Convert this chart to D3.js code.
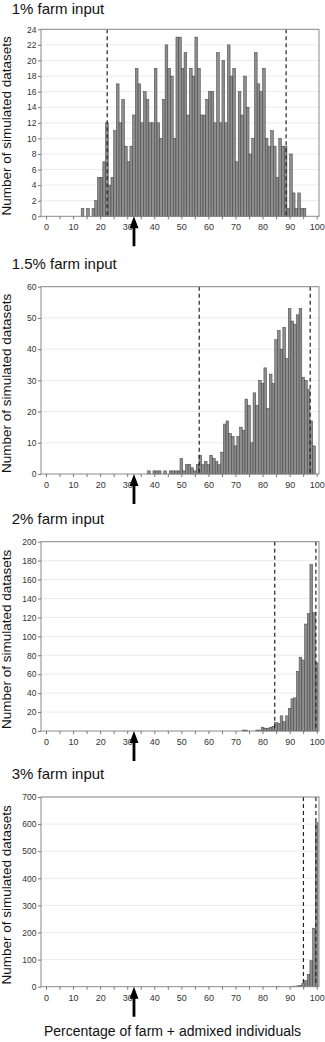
<!DOCTYPE html>
<html>
<head>
<meta charset="utf-8">
<script src="https://cdn.jsdelivr.net/npm/d3@7"></script>
<style>
  body { margin: 0; background: #fff; }
  svg { display: block; font-family: "Liberation Sans", Arial, sans-serif; }
</style>
</head>
<body>
<div id="chart"></div>
<script>
// panel titles
const titles = ["1% farm input", "1.5% farm input", "2% farm input", "3% farm input"];

// histogram counts, one bin per percent; firstBin is the centre of the first bin
const firstBin = [13.5, 38, 73, 86];
const counts1 = [1, 0, 1, 0, 1, 2, 5, 5, 7, 12,
  4, 5, 11, 17, 12, 15, 9, 7, 9, 13,
  19, 17, 12, 16, 15, 12, 12, 19, 12, 10,
  15, 22, 19, 18, 10, 23, 23, 19, 21, 13,
  19, 18, 23, 19, 13, 13, 15, 16, 16, 12,
  21, 12, 20, 12, 22, 18, 19, 7, 16, 13,
  18, 14, 8, 10, 21, 17, 16, 19, 10, 9,
  11, 9, 5, 10, 9, 9, 1, 8, 3, 1,
  3, 1, 1];
const counts2 = [1, 0, 1, 1, 1, 0, 1, 0, 1, 1, 1, 1,
  5, 1, 3, 3, 2, 1, 3, 6, 3, 4, 3, 6, 5, 4, 3, 7,
  16, 17, 13, 12, 9, 12, 15, 14, 24, 22, 10, 26, 22, 30, 29, 34, 21, 32, 29,
  43, 46, 40, 47, 37, 53, 49, 48, 51, 53, 31, 30, 27, 17, 9];
const counts3 = [1, 1, 0, 0, 0, 1, 1, 4, 3, 3, 4, 5,
  9, 8, 16, 10, 16, 24, 34, 35, 63, 78, 75, 113, 124, 176, 125, 72];
const counts4 = [1, 0, 0, 0, 0, 2, 2, 3, 4, 12, 22, 45, 96, 216, 605];

// y axes
const yTicks1 = [0, 2, 4, 6, 8, 10, 12, 14, 16, 18, 20, 22, 24];
const yTicks2 = [0, 10, 20, 30, 40, 50, 60];
const yTicks3 = [0, 20, 40, 60, 80, 100, 120, 140, 160, 180, 200];
const yTicks4 = [0, 100, 200, 300, 400, 500, 600, 700];

// x axis
const xTicks = [0, 5, 10, 15, 20, 25, 30, 35, 40, 45, 50, 55, 60, 65, 70, 75, 80, 85, 90, 95, 100];
const xTickLabels = [0, 10, 20, 30, 40, 50, 60, 70, 80, 90, 100];

// dashed limits and the observed value (arrow)
const dashed = [[22.6, 88.7], [56.6, 97.6], [84.5, 99.7], [95.1, 99.7]];
const observed = 32.5;

const yLabel = "Number of simulated datasets";
const xLabel = "Percentage of farm + admixed individuals";

/* layout */
const W = 325, H = 1042;
const plotLeft = 41, plotRight = 319;
const panelTop = [29.3, 286.7, 541.7, 797];
const panelBottom = [216.3, 474, 731, 986.7];
const titleY = [14, 269, 523.5, 779];

const counts = [counts1, counts2, counts3, counts4];
const yTicks = [yTicks1, yTicks2, yTicks3, yTicks4];

const svg = d3.select("#chart").append("svg")
  .attr("width", W)
  .attr("height", H);

const x = d3.scaleLinear().domain([0, 100]).range([46, 316.7]);

counts.forEach((data, p) => {
  const top = panelTop[p], bottom = panelBottom[p];
  const ticks = yTicks[p];
  const y = d3.scaleLinear().domain([0, d3.max(ticks)]).range([bottom, top]);
  const g = svg.append("g");

  // title
  g.append("text")
    .attr("x", 11.7)
    .attr("y", titleY[p])
    .attr("font-size", 15)
    .attr("fill", "#111")
    .text(titles[p]);

  // gridlines
  g.selectAll(".grid")
    .data(ticks.slice(1))
    .enter()
    .append("line")
    .attr("x1", plotLeft)
    .attr("x2", plotRight)
    .attr("y1", (d) => y(d))
    .attr("y2", (d) => y(d))
    .attr("stroke", "#e6e6e6")
    .attr("stroke-width", 0.8);

  // bars
  const bins = data.map((c, i) => ({ centre: firstBin[p] + i, count: c }))
    .filter((d) => d.count > 0);
  g.selectAll(".bar")
    .data(bins)
    .enter()
    .append("rect")
    .attr("x", (d) => x(d.centre - 0.5))
    .attr("width", (d) => x(d.centre + 0.5) - x(d.centre - 0.5))
    .attr("y", (d) => y(d.count))
    .attr("height", (d) => y(0) - y(d.count))
    .attr("fill", "#8e8e8e")
    .attr("stroke", "#3c3c3c")
    .attr("stroke-width", 0.5);

  // dashed lines
  g.selectAll(".dash")
    .data(dashed[p])
    .enter()
    .append("line")
    .attr("x1", (d) => x(d))
    .attr("x2", (d) => x(d))
    .attr("y1", top)
    .attr("y2", bottom)
    .attr("stroke", "#222")
    .attr("stroke-width", 1.2)
    .attr("stroke-dasharray", "4,3");

  // frame
  g.append("rect")
    .attr("x", plotLeft)
    .attr("y", top)
    .attr("width", plotRight - plotLeft)
    .attr("height", bottom - top)
    .attr("fill", "none")
    .attr("stroke", "#8a8a8a")
    .attr("stroke-width", 1);

  // y axis
  g.append("g")
    .attr("transform", `translate(${plotLeft},0)`)
    .call(d3.axisLeft(y).tickValues(ticks).tickSize(3).tickPadding(1.5))
    .call((a) => a.select(".domain").remove())
    .call((a) => a.selectAll("line").attr("stroke", "#777"))
    .call((a) => a.selectAll("text")
      .attr("font-size", 8.5)
      .attr("font-family", "Liberation Sans, Arial, sans-serif")
      .attr("fill", "#333"));

  // x axis
  g.append("g")
    .attr("transform", `translate(0,${bottom})`)
    .call(d3.axisBottom(x).tickValues(xTicks).tickSize(3).tickPadding(4.5)
      .tickFormat((d) => (xTickLabels.includes(d) ? d : "")))
    .call((a) => a.select(".domain").remove())
    .call((a) => a.selectAll("line").attr("stroke", "#777"))
    .call((a) => a.selectAll("text")
      .attr("font-size", 9)
      .attr("font-family", "Liberation Sans, Arial, sans-serif")
      .attr("fill", "#333"));

  // y label
  g.append("text")
    .attr("transform", `translate(10.5,${(top + bottom) / 2 + 3}) rotate(-90)`)
    .attr("text-anchor", "middle")
    .attr("font-size", 13.5)
    .attr("fill", "#111")
    .text(yLabel);

  // arrow marking the observed value
  const ax = x(observed), ay = y(0);
  g.append("path")
    .attr("d", `M${ax},${ay} L${ax - 4.5},${ay + 12} L${ax - 1.4},${ay + 12} ` +
      `L${ax - 1.4},${ay + 30} L${ax + 1.4},${ay + 30} L${ax + 1.4},${ay + 12} ` +
      `L${ax + 4.5},${ay + 12} Z`)
    .attr("fill", "#000");
});

// x label
svg.append("text")
  .attr("x", 172.5)
  .attr("y", 1036)
  .attr("text-anchor", "middle")
  .attr("font-size", 14)
  .attr("fill", "#111")
  .text(xLabel);
</script>
</body>
</html>
